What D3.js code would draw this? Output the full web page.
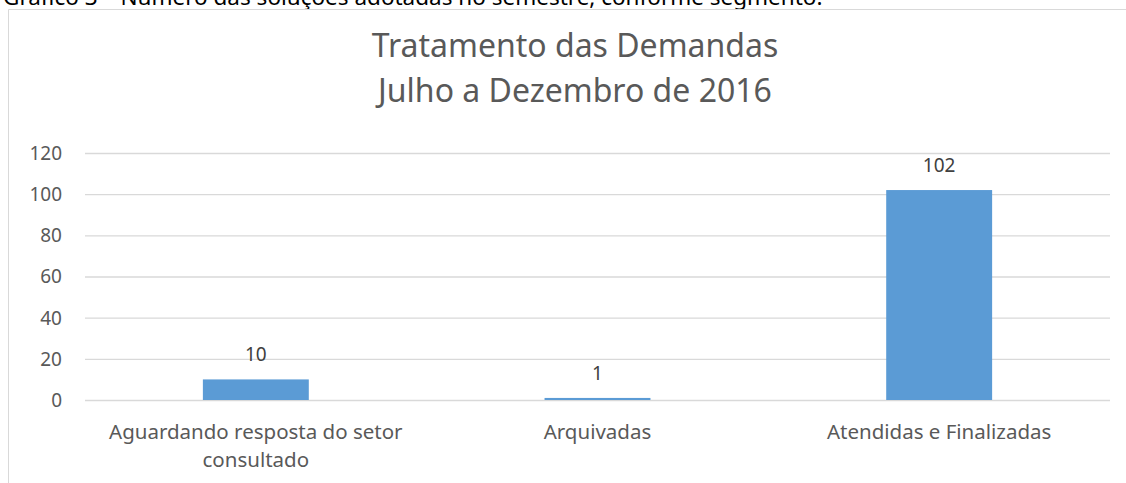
<!DOCTYPE html>
<html>
<head>
<meta charset="utf-8">
<style>
  body { margin: 0; background: #fff; }
  svg { display: block; }
  text { font-family: "Noto Sans", "Open Sans", sans-serif; }
</style>
<script src="https://cdn.jsdelivr.net/npm/d3@7"></script>
</head>
<body>
<svg width="1126" height="483"></svg>
<script>

// data
var categories = ["Aguardando resposta do setor consultado", "Arquivadas", "Atendidas e Finalizadas"];
var values = [10, 1, 102];
var yTicks = [0, 20, 40, 60, 80, 100, 120];
var titleLines = ["Tratamento das Demandas", "Julho a Dezembro de 2016"];
var caption = "Gráfico 3 – Número das soluções adotadas no semestre, conforme segmento.";

var svg = d3.select("svg");

var grey = "#595959",
    grid = "#d9d9d9",
    barColor = "#5b9bd5";

// caption above the chart, cut off by the top of the page
svg.append("text")
  .attr("x", 3)
  .attr("y", 5)
  .attr("font-size", 22.5)
  .attr("fill", "#000")
  .text(caption);

// chart area border (only top and left show)
svg.append("path")
  .attr("d", "M8.5,483 V9.5 H1126")
  .attr("fill", "none")
  .attr("stroke", grid)
  .attr("stroke-width", 1);

// title
svg.append("g")
  .attr("font-size", 32)
  .attr("fill", grey)
  .attr("text-anchor", "middle")
  .selectAll("text")
  .data(titleLines)
  .enter().append("text")
  .attr("x", 575)
  .attr("y", function(d, i) { return 57 + i * 45; })
  .text(function(d) { return d; });

var x = d3.scaleBand()
  .domain(categories)
  .range([85, 1110])
  .paddingInner(0.69)
  .paddingOuter(0.345);

var y = d3.scaleLinear()
  .domain([0, 120])
  .range([400, 153]);

// gridlines
svg.append("g")
  .attr("transform", "translate(85,0)")
  .call(d3.axisLeft(y).tickValues(yTicks).tickSize(-1025).tickFormat(""))
  .call(function(g) {
    g.select(".domain").remove();
    g.selectAll("line").attr("stroke", grid).attr("stroke-width", 1.3);
  });

// y labels
svg.append("g")
  .attr("font-size", 19)
  .attr("fill", grey)
  .attr("text-anchor", "end")
  .selectAll("text")
  .data(yTicks)
  .enter().append("text")
  .attr("x", 62)
  .attr("y", function(d) { return y(d); })
  .attr("dy", "0.36em")
  .text(function(d) { return d; });

// bars
svg.append("g")
  .selectAll("rect")
  .data(values)
  .enter().append("rect")
  .attr("x", function(d, i) { return x(categories[i]); })
  .attr("y", function(d) { return y(d); })
  .attr("width", x.bandwidth())
  .attr("height", function(d) { return y(0) - y(d); })
  .attr("fill", barColor);

// value labels
svg.append("g")
  .attr("font-size", 19)
  .attr("fill", "#404040")
  .attr("text-anchor", "middle")
  .selectAll("text")
  .data(values)
  .enter().append("text")
  .attr("x", function(d, i) { return x(categories[i]) + x.bandwidth() / 2; })
  .attr("y", function(d) { return y(d) - 18; })
  .text(function(d) { return d; });

// category labels, wrapped like the original
var catLines = [["Aguardando resposta do setor", "consultado"], ["Arquivadas"], ["Atendidas e Finalizadas"]];

var cat = svg.append("g")
  .attr("font-size", 20.5)
  .attr("fill", grey)
  .attr("text-anchor", "middle")
  .selectAll("text")
  .data(categories)
  .enter().append("text")
  .attr("x", function(d) { return x(d) + x.bandwidth() / 2; })
  .attr("y", 439);

cat.selectAll("tspan")
  .data(function(d, i) { return catLines[i]; })
  .enter().append("tspan")
  .attr("x", function() { return d3.select(this.parentNode).attr("x"); })
  .attr("dy", function(d, i) { return i ? 28 : 0; })
  .text(function(d) { return d; });

</script>
</body>
</html>
